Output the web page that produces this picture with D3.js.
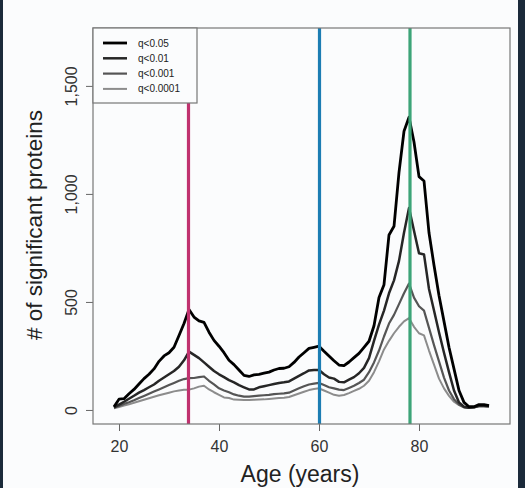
<!DOCTYPE html>
<html>
<head>
<meta charset="utf-8">
<script src="https://cdn.jsdelivr.net/npm/d3@7"></script>
<style>
  html, body { margin: 0; padding: 0; background: #1b2a3a; }
  svg { display: block; }
</style>
</head>
<body>
<div id="chart"></div>
<script>
// ----- Data -----
const ages = d3.range(19, 95); // 19..94, one point per year

const q05 = [15, 50, 52, 75, 95, 120, 145, 165, 190, 225, 250, 265, 290, 345, 400, 465,
  430, 412, 405, 360, 322, 295, 265, 230, 210, 185, 160, 155, 162, 165, 170, 175, 185,
  192, 193, 200, 220, 245, 265, 285, 290, 295, 272, 250, 228, 208, 205, 222, 242, 262,
  290, 318, 390, 520, 580, 810, 850, 1100, 1290, 1355, 1240, 1080, 1060, 820, 670, 530,
  410, 290, 190, 90, 35, 15, 15, 25, 25, 20];

const q01 = [12, 25, 38, 52, 66, 80, 92, 105, 118, 135, 150, 165, 180, 200, 230, 270,
  255, 240, 220, 200, 180, 165, 152, 138, 128, 115, 105, 95, 95, 105, 110, 115, 120,
  125, 128, 132, 145, 158, 170, 183, 185, 185, 165, 150, 145, 130, 128, 140, 152, 170,
  195, 240, 320, 395, 460, 540, 600, 690, 820, 935, 830, 725, 720, 560, 460, 360,
  265, 175, 90, 35, 15, 10, 12, 20, 20, 18];

const q001 = [10, 18, 28, 36, 45, 55, 65, 75, 85, 95, 105, 115, 125, 135, 143, 147,
  148, 152, 155, 135, 118, 100, 90, 82, 72, 66, 62, 62, 64, 66, 68, 70, 73,
  75, 77, 80, 90, 100, 110, 118, 122, 125, 115, 105, 100, 94, 92, 102, 112, 125,
  140, 175, 220, 275, 340, 400, 440, 490, 540, 585, 520, 480, 460, 380, 300, 225,
  150, 90, 50, 25, 12, 10, 12, 18, 18, 16];

const q0001 = [8, 14, 20, 26, 33, 40, 47, 54, 61, 68, 74, 80, 86, 90, 93, 94,
  100, 108, 112, 95, 82, 70, 58, 55, 48, 47, 46, 46, 47, 48, 49, 51, 53,
  55, 57, 60, 68, 76, 84, 92, 97, 100, 90, 80, 70, 66, 69, 78, 88, 98,
  112, 135, 175, 225, 280, 320, 355, 385, 410, 425, 385, 355, 345, 275, 210, 145,
  100, 65, 38, 22, 12, 10, 12, 16, 16, 14];

const seriesNames = ["q<0.05", "q<0.01", "q<0.001", "q<0.0001"];
const seriesValues = [q05, q01, q001, q0001];

const markerAges = [33.9, 60.1, 78.2];
const xTicks = [20, 40, 60, 80];
const yTicks = [0, 500, 1000, 1500];

// ----- Styles -----
const W = 525, H = 488;
const PLOT = { left: 93, right: 510, top: 28, bottom: 424 };
const lineColors = ["#000000", "#262626", "#555555", "#8c8c8c"];
const lineWidths = [2.8, 2.5, 2.2, 2];
const markerColors = ["#c0326f", "#1c7db3", "#3da478"];
const FONT = "'Liberation Sans', Arial, Helvetica, sans-serif";

const svg = d3.select("#chart").append("svg")
  .attr("width", W)
  .attr("height", H);

// dark frame round a white slide
svg.append("rect").attr("width", W).attr("height", H).attr("fill", "#1b2a3a");
svg.append("rect")
  .attr("x", 3).attr("y", 0)
  .attr("width", 515).attr("height", H)
  .attr("fill", "#fbfcfd");

// ----- Scales -----
const x = d3.scaleLinear().domain([14.8, 98.2]).range([PLOT.left, PLOT.right]);
const y = d3.scaleLinear().domain([-65, 1768]).range([PLOT.bottom, PLOT.top]);

// ----- Axes (R style: outward ticks, rotated y labels) -----
const xAxisG = svg.append("g")
  .attr("transform", `translate(0,${PLOT.bottom})`)
  .call(d3.axisBottom(x).tickValues(xTicks).tickSize(7).tickSizeOuter(0).tickPadding(10));
xAxisG.select(".domain").remove();
xAxisG.selectAll("line").attr("stroke", "#666");
xAxisG.selectAll("text")
  .attr("fill", "#333")
  .attr("font-family", FONT)
  .attr("font-size", 16);

const yAxisG = svg.append("g")
  .attr("transform", `translate(${PLOT.left},0)`)
  .call(d3.axisLeft(y).tickValues(yTicks).tickSize(7).tickSizeOuter(0)
    .tickFormat(d3.format(",")));
yAxisG.select(".domain").remove();
yAxisG.selectAll("line").attr("stroke", "#666");
yAxisG.selectAll("text")
  .attr("fill", "#333")
  .attr("font-family", FONT)
  .attr("font-size", 16)
  .attr("text-anchor", "middle")
  .attr("dy", null)
  .attr("x", 0)
  .attr("transform", "translate(-16,0) rotate(-90)");

// axis titles
svg.append("text")
  .attr("x", 300)
  .attr("y", 482)
  .attr("text-anchor", "middle")
  .attr("fill", "#222")
  .attr("font-family", FONT)
  .attr("font-size", 23)
  .text("Age (years)");

svg.append("text")
  .attr("transform", "translate(42,225) rotate(-90)")
  .attr("text-anchor", "middle")
  .attr("fill", "#222")
  .attr("font-family", FONT)
  .attr("font-size", 22.5)
  .text("# of significant proteins");

// ----- Curves (lightest first, black on top) -----
const line = d3.line()
  .x((d, i) => x(ages[i]))
  .y(d => y(d));

for (let s = seriesValues.length - 1; s >= 0; s--) {
  svg.append("path")
    .datum(seriesValues[s])
    .attr("fill", "none")
    .attr("stroke", lineColors[s])
    .attr("stroke-width", lineWidths[s])
    .attr("stroke-linejoin", "round")
    .attr("d", line);
}

// ----- Vertical age markers -----
svg.selectAll(".marker")
  .data(markerAges)
  .join("line")
  .attr("class", "marker")
  .attr("x1", d => x(d))
  .attr("x2", d => x(d))
  .attr("y1", PLOT.top)
  .attr("y2", PLOT.bottom)
  .attr("stroke", (d, i) => markerColors[i])
  .attr("stroke-width", 3.2);

// ----- Plot box -----
svg.append("rect")
  .attr("x", PLOT.left)
  .attr("y", PLOT.top)
  .attr("width", PLOT.right - PLOT.left)
  .attr("height", PLOT.bottom - PLOT.top)
  .attr("fill", "none")
  .attr("stroke", "#777")
  .attr("stroke-width", 1.2);

// ----- Legend -----
const legend = svg.append("g");
legend.append("rect")
  .attr("x", PLOT.left)
  .attr("y", PLOT.top)
  .attr("width", 104)
  .attr("height", 75)
  .attr("fill", "#fbfcfd")
  .attr("stroke", "#777")
  .attr("stroke-width", 1.2);

const rows = legend.selectAll(".row")
  .data(seriesNames)
  .join("g")
  .attr("class", "row")
  .attr("transform", (d, i) => `translate(0,${43 + i * 15.3})`);

rows.append("line")
  .attr("x1", 103).attr("x2", 127)
  .attr("stroke", (d, i) => lineColors[i])
  .attr("stroke-width", (d, i) => lineWidths[i]);

rows.append("text")
  .attr("x", 138)
  .attr("dy", "0.35em")
  .attr("fill", "#222")
  .attr("font-family", FONT)
  .attr("font-size", 10)
  .text(d => d);
</script>
</body>
</html>
